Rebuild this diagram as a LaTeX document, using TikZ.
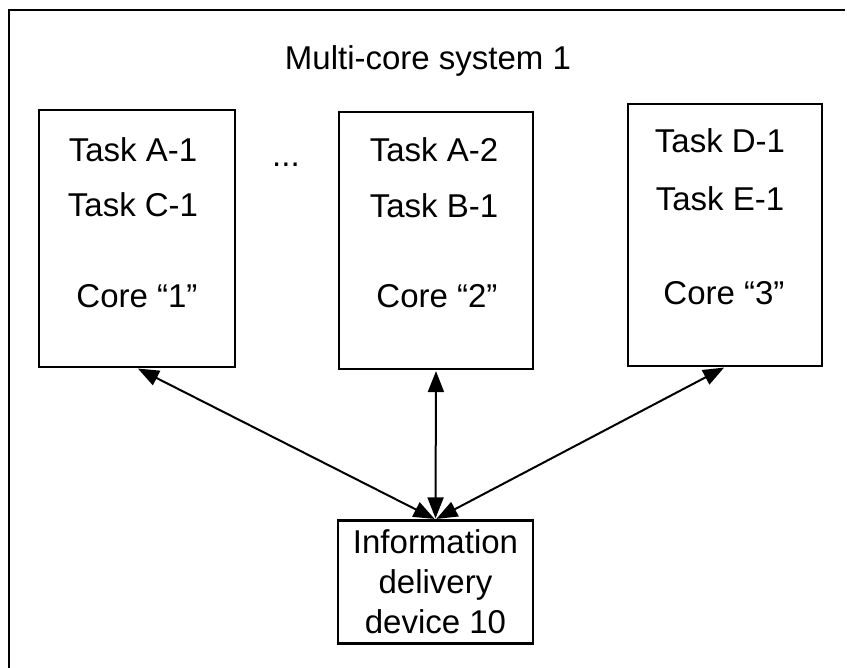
\documentclass[tikz,border=0pt]{standalone}
\usepackage{fontspec}
\setmainfont{Liberation Sans}
\usetikzlibrary{arrows.meta}

\tikzset{
  corebox/.style={draw, line width=2.2pt, inner sep=0pt},
  boxtext/.style={anchor=base, inner sep=0.75pt, font=\fontsize{33}{40}\selectfont},
  link/.style={line width=2pt, {Triangle[length=21pt,width=16pt]}-{Triangle[length=21pt,width=16pt]}, shorten <=1pt, shorten >=1pt}
}

\begin{document}
\begin{tikzpicture}[x=1pt,y=1pt,yscale=-1,xscale=1]
\useasboundingbox (0,0) rectangle (847,668);

%Outer frame
\draw [line width=2.2pt] (9,668) -- (9,10) -- (845,10) ;

% Text Node
\node (title) [boxtext] at (428,70) {Multi-core system 1};

%Shape: Rectangle
\node (core1) [corebox, minimum width=196, minimum height=257] at (137,238.5) {};
%Shape: Rectangle
\node (core2) [corebox, minimum width=194, minimum height=257] at (436,240.5) {};
%Shape: Rectangle
\node (core3) [corebox, minimum width=194, minimum height=262] at (725,235) {};
%Shape: Rectangle
\node (infodev) [corebox, minimum width=195, minimum height=123, align=center, font=\fontsize{33}{40}\selectfont] at (435.5,582) {Information\\delivery\\device 10};

% Text Node
\node (taskA1) [boxtext] at (133,162) {Task A-1};
\node (taskC1) [boxtext] at (133,217) {Task C-1};
\node (lbl1) [boxtext] at (137,308) {Core “1”};
% Text Node
\node (dots) [boxtext] at (286,167) {...};
% Text Node
\node (taskA2) [boxtext] at (434,162) {Task A-2};
\node (taskB1) [boxtext] at (434,218) {Task B-1};
\node (lbl2) [boxtext] at (437,308) {Core “2”};
% Text Node
\node (taskD1) [boxtext] at (720,153) {Task D-1};
\node (taskE1) [boxtext] at (720,211) {Task E-1};
\node (lbl3) [boxtext] at (724,305) {Core “3”};

%Straight Lines
\draw [link] (core1.south) -- (infodev.north) ;
\draw [link] (core2.south) -- (infodev.north) ;
\draw [link] (core3.south) -- (infodev.north) ;

\end{tikzpicture}
\end{document}
